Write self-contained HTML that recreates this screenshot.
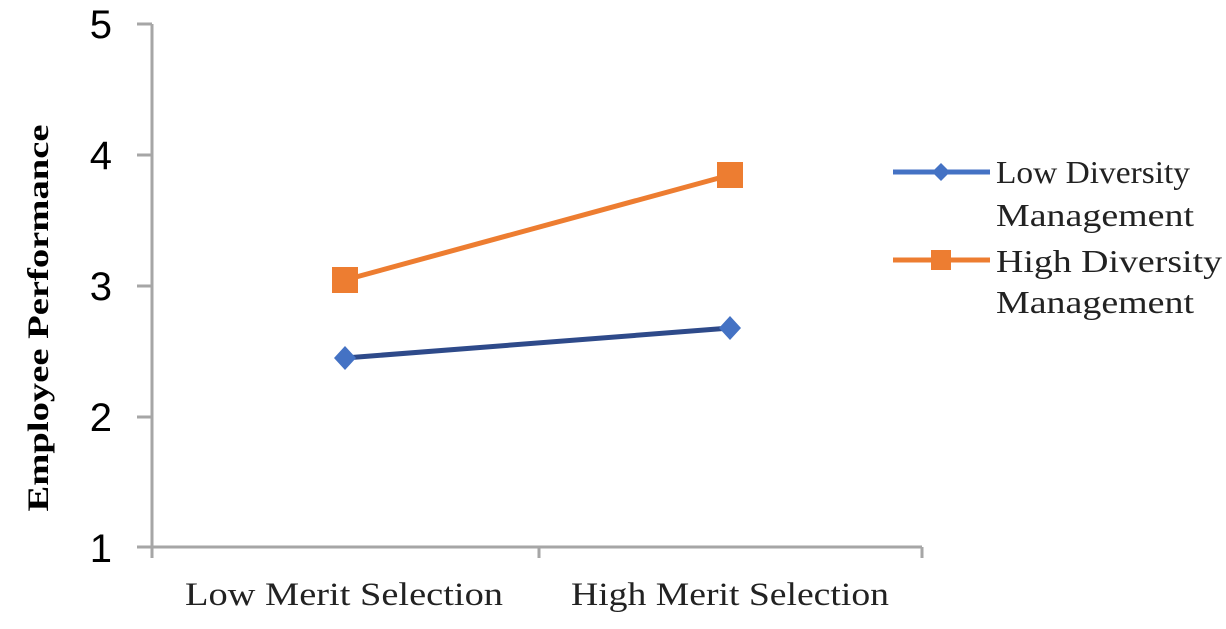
<!DOCTYPE html>
<html><head><style>body{margin:0;background:#fff}</style></head><body>
<svg width="1226" height="624" xmlns="http://www.w3.org/2000/svg">
<rect width="1226" height="624" fill="#fff"/>
<g stroke="#a6a6a6" stroke-width="3" fill="none">
<line x1="152" y1="24" x2="152" y2="548"/>
<line x1="137" y1="547" x2="922" y2="547"/>
<line x1="137" y1="24" x2="152" y2="24"/>
<line x1="137" y1="155" x2="152" y2="155"/>
<line x1="137" y1="286" x2="152" y2="286"/>
<line x1="137" y1="417" x2="152" y2="417"/>
<line x1="152" y1="547" x2="152" y2="558"/>
<line x1="539" y1="547" x2="539" y2="558"/>
<line x1="922" y1="547" x2="922" y2="558"/>
</g>
<g font-family="Liberation Sans, sans-serif" font-size="40" fill="#000" text-anchor="end">
<text x="112" y="38">5</text><text x="112" y="169">4</text><text x="112" y="300">3</text><text x="112" y="431">2</text><text x="112" y="562">1</text>
</g>
<text transform="translate(48,318) rotate(-90)" font-family="Liberation Serif, serif" font-weight="bold" font-size="30" text-anchor="middle" textLength="387" lengthAdjust="spacingAndGlyphs">Employee Performance</text>
<g font-family="Liberation Serif, serif" font-size="33" fill="#222" text-anchor="middle">
<text x="344" y="605" textLength="318" lengthAdjust="spacingAndGlyphs">Low Merit Selection</text><text x="730" y="605" textLength="318" lengthAdjust="spacingAndGlyphs">High Merit Selection</text>
</g>
<line x1="345" y1="280" x2="730" y2="175" stroke="#ed7d31" stroke-width="5"/>
<line x1="345" y1="358" x2="730" y2="328" stroke="#2e4a8a" stroke-width="5"/>
<rect x="332" y="267" width="26" height="26" fill="#ed7d31"/>
<rect x="717" y="162" width="26" height="26" fill="#ed7d31"/>
<polygon points="345,346 356,358 345,370 334,358" fill="#4472c4"/>
<polygon points="730,316 741,328 730,340 719,328" fill="#4472c4"/>
<line x1="893" y1="172" x2="990" y2="172" stroke="#4472c4" stroke-width="5"/>
<polygon points="941,163 950,172 941,181 932,172" fill="#4472c4"/>
<line x1="893" y1="260" x2="990" y2="260" stroke="#ed7d31" stroke-width="5"/>
<rect x="931" y="250" width="20" height="20" fill="#ed7d31"/>
<g font-family="Liberation Serif, serif" font-size="32" fill="#222">
<text x="996" y="183" textLength="194" lengthAdjust="spacingAndGlyphs">Low Diversity</text><text x="996" y="226" textLength="198" lengthAdjust="spacingAndGlyphs">Management</text>
<text x="996" y="272" textLength="226" lengthAdjust="spacingAndGlyphs">High Diversity</text><text x="996" y="313" textLength="198" lengthAdjust="spacingAndGlyphs">Management</text>
</g>
</svg>
</body></html>
